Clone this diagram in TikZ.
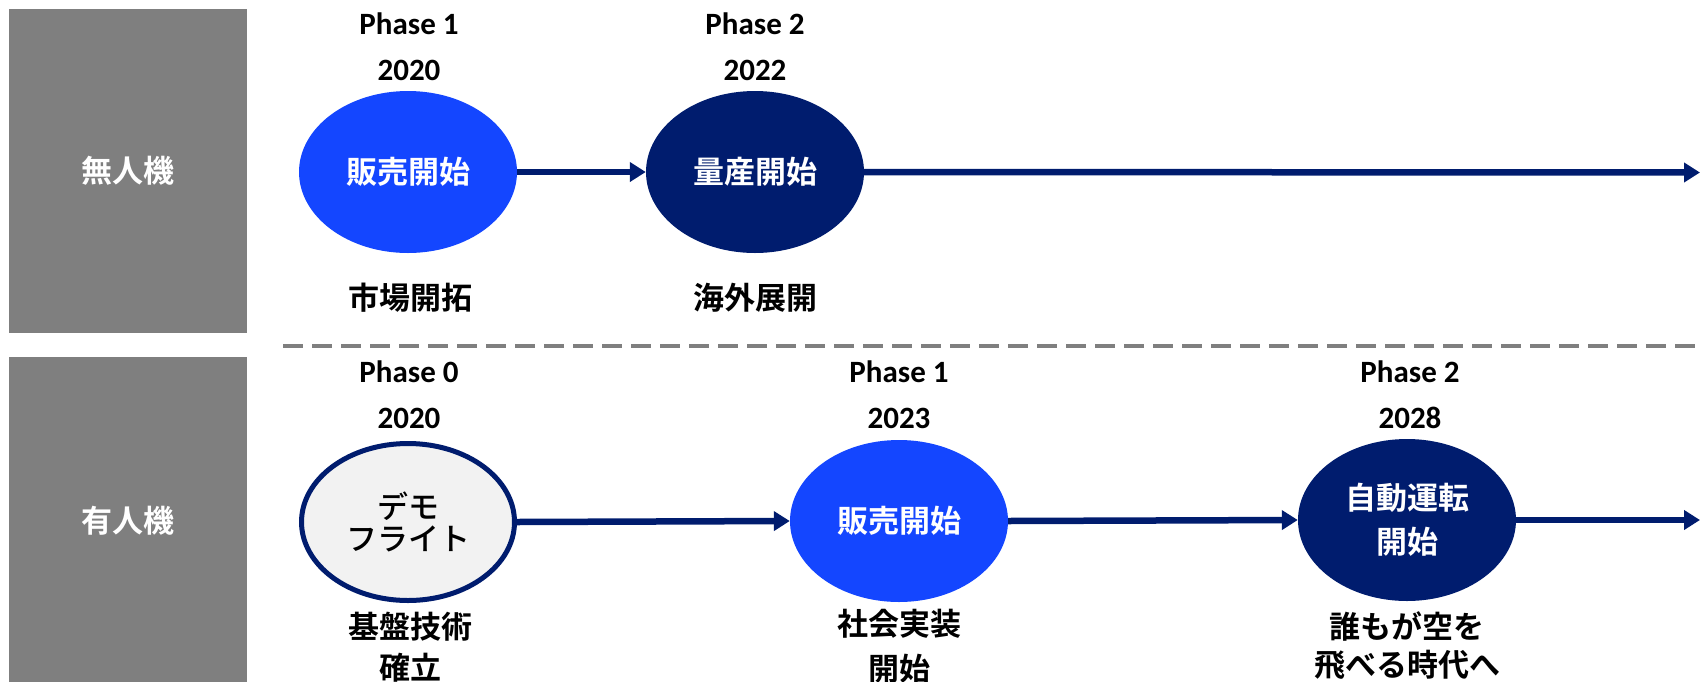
\documentclass[tikz,border=0pt]{standalone}
\usepackage{fontspec}
\setmainfont{Carlito}
\newfontfamily\jp{Noto Sans CJK JP Bold}
\newfontfamily\jpr{Noto Sans CJK JP Medium}
\usetikzlibrary{arrows.meta,shapes.geometric}
\definecolor{navy}{RGB}{0,28,110}
\definecolor{vblue}{RGB}{20,70,255}
\definecolor{lgray}{RGB}{242,242,242}
\definecolor{mgray}{RGB}{127,127,127}
\begin{document}
\begin{tikzpicture}[x=1pt,y=-1pt,
  lane/.style={fill=mgray, draw=none, minimum width=238pt, inner sep=0pt, text=white, font=\jp\fontsize{31}{37}\selectfont},
  phasetxt/.style={font=\bfseries\fontsize{31}{37}\selectfont, inner sep=0pt},
  jptxt/.style={font=\jp\fontsize{31}{37}\selectfont, inner sep=0pt, align=center},
  bubble/.style={ellipse, minimum width=218pt, minimum height=162pt, inner sep=0pt, text=white, font=\jp\fontsize{31}{37}\selectfont, align=center},
  brightbubble/.style={bubble, fill=vblue},
  darkbubble/.style={bubble, fill=navy},
  openbubble/.style={bubble, fill=lgray, draw=navy, line width=5pt, minimum width=213pt, minimum height=157pt, text=black},
  conn/.style={draw=navy, line width=6.5pt, -{Triangle[length=16pt,width=19pt]}},
  sep/.style={draw=mgray, line width=4pt, dash pattern=on 20pt off 9pt}
]
\useasboundingbox (0,0) rectangle (1700,681);
% lanes
\node[lane, minimum height=324pt] (lane1) at (128,171) {無人機};
\node[lane, minimum height=327pt] (lane2) at (128,520.5) {有人機};
% separator
\coordinate (s1) at (283,346);
\coordinate (s2) at (1700,346);
\draw[sep] (s1) -- (s2);
% top row
\node[phasetxt] (p11) at (409,24) {Phase 1};
\node[phasetxt] (y11) at (409,70) {2020};
\node[brightbubble] (e1) at (408,172) {販売開始};
\node[jptxt] (l11) at (410,298) {市場開拓};
\node[phasetxt] (p12) at (755,24) {Phase 2};
\node[phasetxt] (y12) at (755,70) {2022};
\node[darkbubble] (e2) at (755,172) {量産開始};
\node[jptxt] (l12) at (755,298) {海外展開};
\coordinate (end1) at (1700,172.5);
\draw[conn] (e1.east) -- (e2.west);
\draw[conn] (e2.east) -- (end1);
% bottom row
\node[phasetxt] (p20) at (409,372) {Phase 0};
\node[phasetxt] (y20) at (409,418) {2020};
\node[openbubble, font=\jpr\fontsize{31}{32}\selectfont] (d0) at (408,522) {デモ\\フライト};
\node[jptxt, font=\jp\fontsize{31}{41}\selectfont] (l20) at (410,647) {基盤技術\\確立};
\node[phasetxt] (p21) at (899,372) {Phase 1};
\node[phasetxt] (y21) at (899,418) {2023};
\node[brightbubble] (b1) at (899,521) {販売開始};
\node[jptxt, font=\jp\fontsize{31}{45}\selectfont] (l21) at (899,646) {社会実装\\開始};
\node[phasetxt] (p22) at (1410,372) {Phase 2};
\node[phasetxt] (y22) at (1410,418) {2028};
\node[darkbubble, font=\jp\fontsize{31}{44}\selectfont] (b2) at (1407,520) {自動運転\\開始};
\node[jptxt, font=\jp\fontsize{31}{38}\selectfont] (l22) at (1407,646) {誰もが空を\\飛べる時代へ};
\coordinate (end2) at (1700,520);
\draw[conn] (d0.east) -- (b1.west);
\draw[conn] (b1.east) -- (b2.west);
\draw[conn] (b2.east) -- (end2);
\end{tikzpicture}
\end{document}
